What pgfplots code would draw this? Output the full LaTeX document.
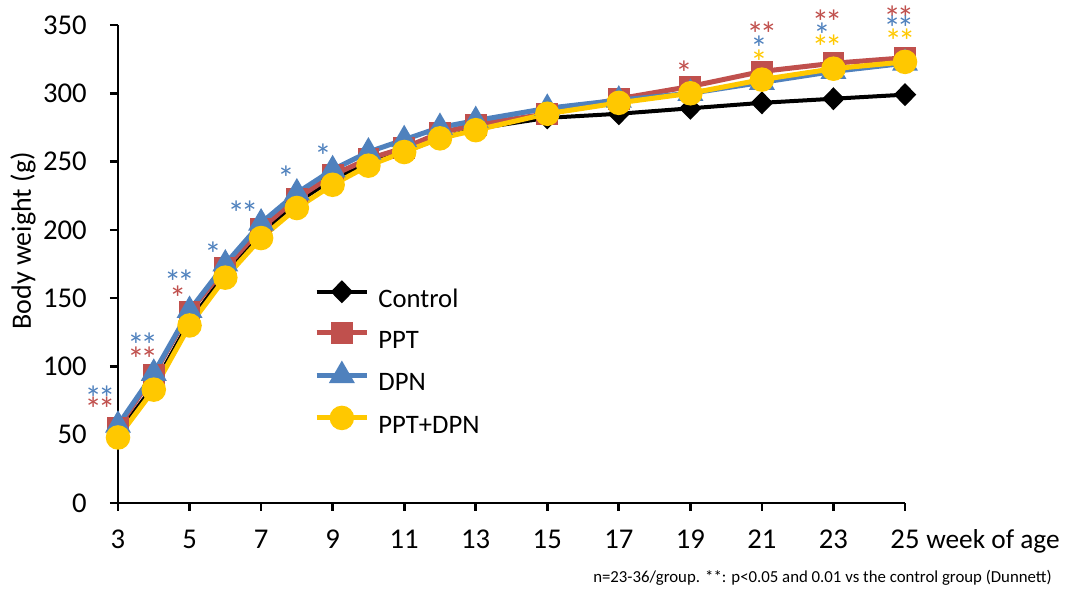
\documentclass[border=0pt]{standalone}
\usepackage{fontspec}
\setmainfont{Carlito}
\usepackage{pgfplots}
\usepackage{pgfplotstable}
\pgfplotsset{compat=1.18}
\definecolor{cRed}{HTML}{C0504D}
\definecolor{cBlue}{HTML}{4F81BD}
\definecolor{cYel}{HTML}{FFC800}

\pgfplotstableread{
week ctrl ppt dpn both
3  51  55  57  48
4  86  94  95  83
5  133 140 141 130
6  168 172 175 165
7  197 201 205 194
8  220 223 227 216
9  237 240 244 233
10 249 252 257 247
11 257 260 266 257
12 267 271 275 267
13 274 277 280 273
15 282 285 289 285
17 285 296 295 293
19 289 305 300 300
21 293 316 308 310
23 296 322 316 318
25 299 326 322 323
}\data

\tikzset{ast/.style={font=\fontsize{26}{30}\selectfont, inner sep=0pt, anchor=center, yshift=-4pt}}
\newcommand{\dd}{*\kern-3pt*}

\begin{document}
\begin{tikzpicture}
\useasboundingbox (-88.5pt,-66pt) rectangle (711pt,377.25pt);
\begin{axis}[
  at={(0pt,0pt)}, anchor=south west,
  scale only axis, width=590.25pt, height=358.5pt,
  xmin=3, xmax=25, ymin=0, ymax=350,
  axis lines=left, axis line style={-, line width=2.2pt, black},
  xtick={3,5,...,25}, ytick={0,50,...,350},
  tick align=outside, major tick length=6pt,
  tick style={line width=2pt, black},
  /pgf/number format/assume math mode=true,
  tick label style={font=\fontsize{21.5}{25}\selectfont},
  xticklabel style={yshift=-11pt},
  yticklabel style={xshift=-14pt},
  clip=false,
  ylabel={Body weight (g)},
  ylabel style={at={(axis cs:0.344,192)}, anchor=center, font=\fontsize{21}{25}\selectfont},
  legend image code/.code={\draw[mark repeat=2, mark phase=2] plot coordinates {(0pt,6.5pt)(19pt,6.5pt)(38pt,6.5pt)};},
  legend style={at={(axis cs:8.48,161)}, anchor=north west, draw=none, fill=none,
    inner sep=0pt, outer sep=0pt, row sep=9pt,
    font=\fontsize{20}{24}\selectfont,
    nodes={inner sep=0pt, text height=14pt, text depth=4pt},
    /tikz/every odd column/.append style={column sep=6.5pt}},
  legend cell align=left,
]
\addplot[black, line width=3pt, mark=diamond*, mark size=6.5pt, mark options={xscale=1.3, solid}] table[x=week, y=ctrl]{\data};
\addplot[cRed, line width=3.75pt, mark=square*, mark size=6.3pt, mark options={solid}] table[x=week, y=ppt]{\data};
\addplot[cBlue, line width=3.75pt, mark=triangle*, mark size=7.5pt, mark options={solid}] table[x=week, y=dpn]{\data};
\addplot[cYel, line width=3.75pt, mark=*, mark size=7.3pt, mark options={solid}] table[x=week, y=both]{\data};
\legend{Control, PPT, DPN, PPT+DPN}

\node[ast, text=cBlue] at (axis cs:2.497,80.5) {\dd};
\node[ast, text=cRed] at (axis cs:2.497,72.5) {\dd};
\node[ast, text=cBlue] at (axis cs:3.69,119.4) {\dd};
\node[ast, text=cRed] at (axis cs:3.69,108.9) {\dd};
\node[ast, text=cBlue] at (axis cs:4.714,165.3) {\dd};
\node[ast, text=cRed] at (axis cs:4.669,154.0) {*};
\node[ast, text=cBlue] at (axis cs:5.656,186.0) {*};
\node[ast, text=cBlue] at (axis cs:6.494,216.0) {\dd};
\node[ast, text=cBlue] at (axis cs:7.696,241.6) {*};
\node[ast, text=cBlue] at (axis cs:8.731,257.7) {*};
\node[ast, text=cRed] at (axis cs:18.822,318.5) {*};
\node[ast, text=cRed] at (axis cs:21.0,347.1) {\dd};
\node[ast, text=cBlue] at (axis cs:20.918,336.8) {*};
\node[ast, text=cYel] at (axis cs:20.918,326.6) {*};
\node[ast, text=cRed] at (axis cs:22.82,355.9) {\dd};
\node[ast, text=cBlue] at (axis cs:22.68,346.3) {*};
\node[ast, text=cYel] at (axis cs:22.82,337.5) {\dd};
\node[ast, text=cRed] at (axis cs:24.83,358.8) {\dd};
\node[ast, text=cBlue] at (axis cs:24.83,351.5) {\dd};
\node[ast, text=cYel] at (axis cs:24.86,342.0) {\dd};

\node[anchor=base west, inner sep=0pt, font=\fontsize{20.5}{24}\selectfont] at (axis cs:25,0) [xshift=15.75pt, yshift=-34.5pt] {week of age};
\node[anchor=base west, inner sep=0pt, font=\fontsize{12.6}{15}\selectfont] at (rel axis cs:0,0) [xshift=356.25pt, yshift=-59.5pt] {n=23-36/group. **: p<0.05 and 0.01 vs the control group (Dunnett)};
\end{axis}
\end{tikzpicture}
\end{document}
